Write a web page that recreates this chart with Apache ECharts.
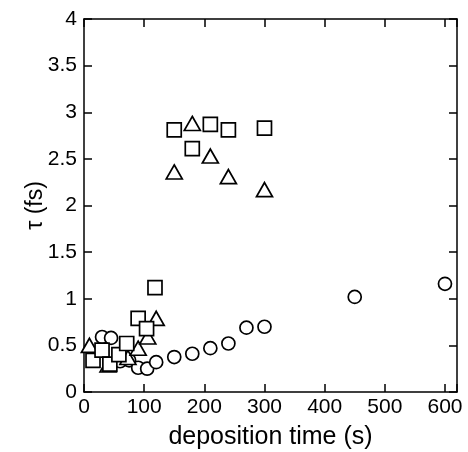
<!DOCTYPE html>
<html>
<head>
<meta charset="utf-8">
<script src="https://cdn.jsdelivr.net/npm/echarts@6/dist/echarts.min.js"></script>
<style>html,body{margin:0;padding:0;background:#fff}#c{width:468px;height:452px}</style>
</head>
<body>
<div id="c"></div>
<script>
// deposition time (s), tau (fs)
const circleData = [[30,0.59],[45,0.58],[60,0.33],[75,0.34],[90,0.26],[105,0.25],[120,0.32],[150,0.375],[180,0.41],[210,0.47],[240,0.52],[270,0.69],[300,0.70],[450,1.02],[600,1.16]];
const squareData = [[15,0.34],[30,0.45],[43,0.30],[58,0.40],[71,0.52],[90,0.79],[104,0.68],[118,1.12],[150,2.81],[180,2.61],[210,2.87],[240,2.81],[300,2.83]];
const triangleData = [[9,0.50],[40,0.29],[73,0.37],[90,0.47],[106,0.59],[120,0.79],[150,2.36],[180,2.88],[210,2.53],[240,2.31],[300,2.17]];
const xTicks = [0,100,200,300,400,500,600];
const yTicks = [0,0.5,1,1.5,2,2.5,3,3.5,4];

const FONT = '"Liberation Sans", Arial, Helvetica, sans-serif';
const chart = echarts.init(document.getElementById('c'), null, {renderer:'canvas'});
const lineStyle = {color:'#000', width:1.5};
const mk = (data, symbol, size) => ({
  type:'scatter', data, symbol, symbolSize:size,
  itemStyle:{color:'#fff', borderColor:'#000', borderWidth:1.7, opacity:1},
  emphasis:{disabled:true}
});
chart.setOption({
  animation:false,
  backgroundColor:'#fff',
  grid:{left:84, right:11, top:19, bottom:60, containLabel:false, outerBoundsMode:'none'},
  xAxis:[{
    type:'value', min:0, max:620, interval:100, position:'bottom',
    name:'deposition time (s)', nameLocation:'middle', nameGap:33, nameMoveOverlap:false,
    nameTextStyle:{fontFamily:FONT, fontSize:25, color:'#000'},
    axisLine:{show:true, onZero:false, lineStyle},
    axisTick:{show:true, inside:true, length:8, lineStyle},
    axisLabel:{fontFamily:FONT, fontSize:21, color:'#000', margin:5,
      formatter:v => xTicks.includes(v) ? String(v) : ''},
    splitLine:{show:false}
  },{
    type:'value', min:0, max:620, interval:100, position:'top',
    axisLine:{show:true, onZero:false, lineStyle},
    axisTick:{show:true, inside:true, length:8, lineStyle},
    axisLabel:{show:false}, splitLine:{show:false}
  }],
  yAxis:[{
    type:'value', min:0, max:4, interval:0.5, position:'left',
    name:'τ (fs)', nameLocation:'middle', nameGap:37, nameRotate:90, nameMoveOverlap:false,
    nameTextStyle:{fontFamily:FONT, fontSize:23, color:'#000'},
    axisLine:{show:true, onZero:false, lineStyle},
    axisTick:{show:true, inside:true, length:8, lineStyle},
    axisLabel:{fontFamily:FONT, fontSize:21, color:'#000', margin:7,
      formatter:v => yTicks.includes(v) ? String(v) : ''},
    splitLine:{show:false}
  },{
    type:'value', min:0, max:4, interval:0.5, position:'right',
    axisLine:{show:true, onZero:false, lineStyle},
    axisTick:{show:true, inside:true, length:8, lineStyle},
    axisLabel:{show:false}, splitLine:{show:false}
  }],
  series:[
    mk(circleData,'circle',13),
    mk(triangleData,'triangle',[16,14]),
    mk(squareData,'rect',14)
  ]
});
</script>
</body>
</html>
